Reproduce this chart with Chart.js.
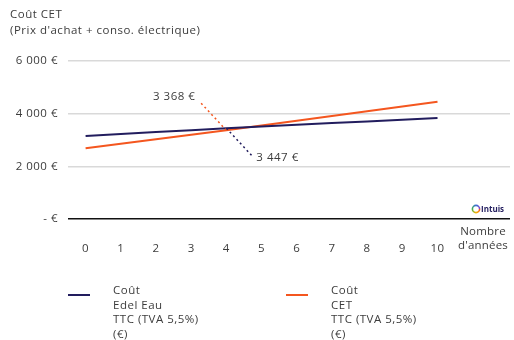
<!DOCTYPE html>
<html lang="fr">
<head>
<meta charset="utf-8">
<script src="https://cdn.jsdelivr.net/npm/chart.js@4"></script>
<style>
  html, body { margin: 0; padding: 0; background: #fff; }
  #chart { display: block; }
</style>
</head>
<body>
<canvas id="chart" width="514" height="340"></canvas>
<script>
const annees = [0, 1, 2, 3, 4, 5, 6, 7, 8, 9, 10];
const coutEdelEau = [3155, 3228, 3301, 3374, 3447, 3512, 3577, 3642, 3707, 3772, 3837];
const coutCET = [2689, 2859, 3029, 3198, 3368, 3549, 3730, 3911, 4092, 4273, 4455];
const yTicks = [0, 2000, 4000, 6000];
const titre = ['Coût CET', "(Prix d'achat + conso. électrique)"];
const titreAxeX = ['Nombre', "d'années"];
const legendeEdel = ['Coût', 'Edel Eau', 'TTC (TVA 5,5%)', '(€)'];
const legendeCET = ['Coût', 'CET', 'TTC (TVA 5,5%)', '(€)'];
const anneeRepere = 4;

const BLEU = '#221d5e';
const ORANGE = '#f4561f';
const TEXTE = '#3c3c3c';
const POLICE = '"Open Sans", sans-serif';
const TAILLE = 11.5;

const euros = v => v === 0 ? '- €' : String(v).replace(/\B(?=(\d{3})+(?!\d))/g, ' ') + ' €';

// texte un peu plus espacé pour tout le graphique
const espacement = {
  id: 'espacement',
  beforeDraw(chart) { chart.ctx.letterSpacing = '0.5px'; }
};

// titre, étiquettes de valeur, légende et logo dessinés à la main
const decor = {
  id: 'decor',
  afterDraw(chart) {
    const ctx = chart.ctx;
    ctx.save();
    ctx.fillStyle = TEXTE;
    ctx.font = TAILLE + 'px ' + POLICE;
    ctx.textBaseline = 'middle';
    ctx.textAlign = 'left';
    titre.forEach((t, i) => ctx.fillText(t, 10, 15 + i * 16));

    // titre de l'axe des x
    ctx.textAlign = 'center';
    ctx.letterSpacing = '0.2px';
    titreAxeX.forEach((t, i) => ctx.fillText(t, 483, 232 + i * 13.5));
    ctx.letterSpacing = '0.5px';

    // étiquettes reliées aux courbes par des pointillés
    const pBleu = chart.getDatasetMeta(0).data[anneeRepere];
    const pOrange = chart.getDatasetMeta(1).data[anneeRepere];
    ctx.lineWidth = 1.5;
    ctx.setLineDash([2, 3]);
    ctx.strokeStyle = ORANGE;
    ctx.beginPath();
    ctx.moveTo(pOrange.x, pOrange.y);
    ctx.lineTo(pOrange.x - 27, pOrange.y - 29);
    ctx.stroke();
    ctx.strokeStyle = BLEU;
    ctx.beginPath();
    ctx.moveTo(pBleu.x, pBleu.y);
    ctx.lineTo(pBleu.x + 26, pBleu.y + 28);
    ctx.stroke();
    ctx.setLineDash([]);
    ctx.fillStyle = TEXTE;
    ctx.textAlign = 'right';
    ctx.fillText(euros(coutCET[anneeRepere]), pOrange.x - 31, pOrange.y - 34);
    ctx.textAlign = 'left';
    ctx.fillText(euros(coutEdelEau[anneeRepere]), pBleu.x + 30, pBleu.y + 29);

    // légende
    const items = [[BLEU, legendeEdel, 68], [ORANGE, legendeCET, 286]];
    items.forEach(([c, lignes, x]) => {
      ctx.strokeStyle = c;
      ctx.lineWidth = 2;
      ctx.beginPath();
      ctx.moveTo(x, 295);
      ctx.lineTo(x + 22, 295);
      ctx.stroke();
      ctx.fillStyle = TEXTE;
      lignes.forEach((t, i) => ctx.fillText(t, x + 45, 291 + i * 14.5));
    });

    // logo
    const lx = 476, ly = 209;
    const grad = ctx.createConicGradient(0, lx, ly);
    grad.addColorStop(0, '#f4561f');
    grad.addColorStop(0.25, '#f7b500');
    grad.addColorStop(0.5, '#3fb34f');
    grad.addColorStop(0.75, '#3a6fd8');
    grad.addColorStop(1, '#8a3fc2');
    ctx.strokeStyle = grad;
    ctx.lineWidth = 1.6;
    ctx.beginPath();
    ctx.arc(lx, ly, 3.6, 0, Math.PI * 2);
    ctx.stroke();
    ctx.letterSpacing = '0px';
    ctx.fillStyle = BLEU;
    ctx.font = 'bold 8px ' + POLICE;
    ctx.fillText('Intuis', 481, ly + 0.5);
    ctx.restore();
  }
};

new Chart(document.getElementById('chart'), {
  type: 'line',
  data: {
    labels: annees,
    datasets: [
      {
        label: legendeEdel.join(' '),
        data: annees.map((a, i) => ({ x: a, y: coutEdelEau[i] })),
        borderColor: BLEU,
        borderWidth: 2,
        pointRadius: 0,
        tension: 0
      },
      {
        label: legendeCET.join(' '),
        data: annees.map((a, i) => ({ x: a, y: coutCET[i] })),
        borderColor: ORANGE,
        borderWidth: 2,
        pointRadius: 0,
        tension: 0
      }
    ]
  },
  options: {
    responsive: false,
    animation: false,
    layout: { padding: { top: 61, right: 4, left: 0, bottom: 0 } },
    plugins: {
      legend: { display: false },
      tooltip: { enabled: false }
    },
    scales: {
      x: {
        type: 'linear',
        min: -0.5,
        max: 12.06,
        afterBuildTicks: s => { s.ticks = annees.map(v => ({ value: v })); },
        afterFit: s => { s.height = 121; },
        grid: { display: false },
        border: { display: false },
        ticks: { color: TEXTE, font: { family: POLICE, size: TAILLE }, padding: 15, maxRotation: 0 }
      },
      y: {
        min: 0,
        max: 6000,
        afterBuildTicks: s => { s.ticks = yTicks.map(v => ({ value: v })); },
        afterFit: s => { s.width = 68; },
        border: { display: false },
        grid: {
          drawTicks: false,
          color: c => c.tick.value === 0 ? '#111111' : '#d9d9d9',
          lineWidth: 1.5
        },
        ticks: { color: TEXTE, font: { family: POLICE, size: TAILLE }, padding: 10, callback: euros }
      }
    }
  },
  plugins: [espacement, decor]
});
</script>
</body>
</html>
